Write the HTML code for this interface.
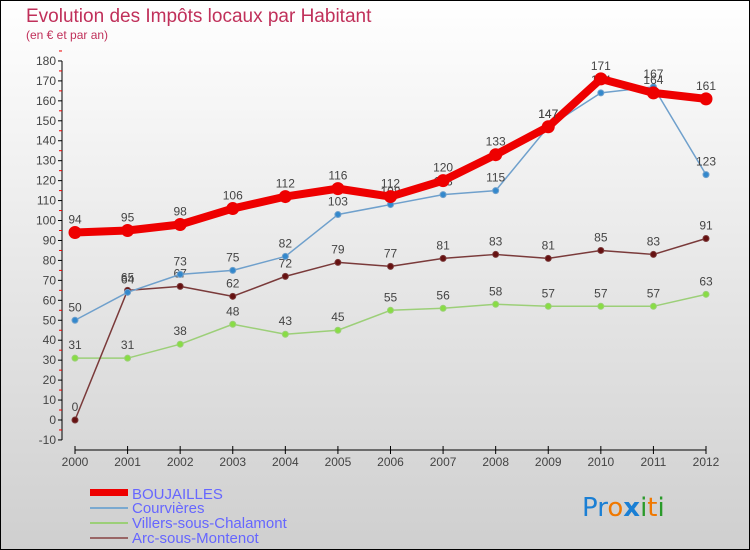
<!DOCTYPE html>
<html><head><meta charset="utf-8"><style>
body{margin:0}
#c{width:750px;height:550px;position:relative;overflow:hidden}
</style></head><body>
<div id="c">
<svg id="s" width="750" height="550" xmlns="http://www.w3.org/2000/svg" font-family="Liberation Sans, sans-serif">
<defs><linearGradient id="bg" x1="0" y1="0" x2="0" y2="1"><stop offset="0" stop-color="#ffffff"/><stop offset="1" stop-color="#cfcfcf"/></linearGradient></defs>
<rect x="0.5" y="0.5" width="749" height="549" fill="url(#bg)" stroke="#000"/>
<text x="26" y="22" font-size="19" fill="#c0305a">Evolution des Impôts locaux par Habitant</text>
<text x="26" y="39" font-size="12" fill="#c0305a">(en € et par an)</text>
<g id="axes"></g><g id="series"></g>
<g>
<rect x="90" y="489" width="38" height="7" fill="#e00"/>
<text x="132" y="499" font-size="15" fill="#6666ff">BOUJAILLES</text>
<line x1="90" y1="508" x2="128" y2="508" stroke="#7aa9d0" stroke-width="2"/>
<text x="132" y="513" font-size="15" fill="#6666ff">Courvières</text>
<line x1="90" y1="523" x2="128" y2="523" stroke="#9ccf78" stroke-width="2"/>
<text x="132" y="528" font-size="15" fill="#6666ff">Villers-sous-Chalamont</text>
<line x1="90" y1="538" x2="128" y2="538" stroke="#996666" stroke-width="2"/>
<text x="132" y="543" font-size="15" fill="#6666ff">Arc-sous-Montenot</text>
</g>
<g font-size="26" font-family="DejaVu Sans, sans-serif">
<text x="582" y="516"><tspan fill="#1a7fd4">P</tspan><tspan fill="#1a7fd4">r</tspan><tspan fill="#f07800">o</tspan><tspan fill="#1a7fd4" font-weight="bold">x</tspan><tspan fill="#2a9a2a">i</tspan><tspan fill="#f07800">t</tspan><tspan fill="#2a9a2a">i</tspan></text>
</g>
</svg>
</div>
<script>
const years=[2000,2001,2002,2003,2004,2005,2006,2007,2008,2009,2010,2011,2012];
const boujailles=[94,95,98,106,112,116,112,120,133,147,171,164,161];
const courvieres=[50,64,73,75,82,103,108,113,115,147,164,167,123];
const villers=[31,31,38,48,43,45,55,56,58,57,57,57,63];
const arc=[0,65,67,62,72,79,77,81,83,81,85,83,91];
const yTicks=[-10,0,10,20,30,40,50,60,70,80,90,100,110,120,130,140,150,160,170,180];
const NS="http://www.w3.org/2000/svg";
const X=i=>75+i*(706-75)/(years.length-1);
const Y=v=>420-v*(379/190);
function mk(t,a,p){const e=document.createElementNS(NS,t);for(const k in a)e.setAttribute(k,a[k]);p.appendChild(e);return e;}
const ax=document.getElementById('axes'),sr=document.getElementById('series');
const yl=mk('line',{x1:62,y1:Y(180),x2:62,y2:Y(-10),stroke:'#000'},ax);


yTicks.forEach(v=>{
 mk('line',{x1:58,x2:62,y1:Y(v),y2:Y(v),stroke:'#000'},ax);
 mk('line',{x1:59,x2:62,y1:Y(v+5),y2:Y(v+5),stroke:'#e00'},ax);
 const t=mk('text',{x:56,y:Y(v)+4,'font-size':12,fill:'#444','text-anchor':'end'},ax);t.textContent=v;
 
 
});
const xl=mk('line',{x1:75,y1:450,x2:706,y2:450,stroke:'#000'},ax);


years.forEach((y,i)=>{
 mk('line',{x1:X(i),x2:X(i),y1:446,y2:454,stroke:'#000'},ax);
 const t=mk('text',{x:X(i),y:466,'font-size':12,fill:'#444','text-anchor':'middle'},ax);t.textContent=y;
 
 
});
function series(vals,color,w,r,dot,name,lab){
 const g=mk('g',{},sr);
 
 
 mk('polyline',{points:vals.map((v,i)=>X(i)+','+Y(v)).join(' '),fill:'none',stroke:color,'stroke-width':w,'stroke-linejoin':'round'},g);
 vals.forEach((v,i)=>{
  const c=mk('circle',{cx:X(i),cy:Y(v),r:r,fill:dot,stroke:color,'stroke-width':1},g);
  
  
  if(lab){const t=mk('text',{x:X(i),y:Y(v)-9,'font-size':12,fill:'#444','text-anchor':'middle'},g);t.textContent=v;}
 });
}
series(villers,'#9ccf78',1.5,3,'#88dd44','series-villers',true);
series(arc,'#7a3a3a',1.5,3,'#661111','series-arc',true);
series(courvieres,'#6fa0cc',1.5,3,'#3388cc','series-courvieres',true);
series(boujailles,'#ee0000',8,6,'#ee0000','series-boujailles',true);
</script>
</body></html>
